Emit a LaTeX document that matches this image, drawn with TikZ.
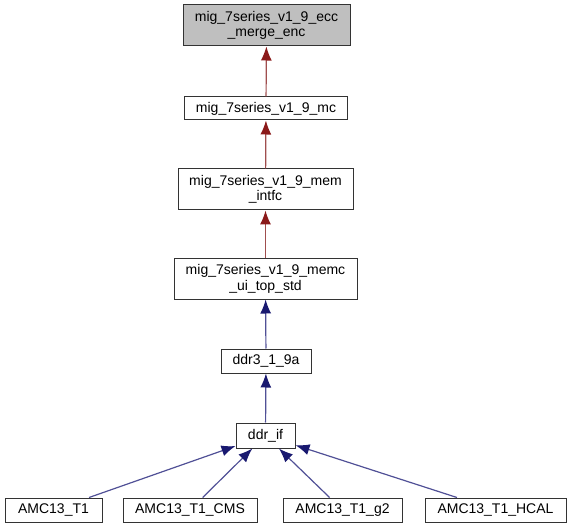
\documentclass[tikz,border=0pt]{standalone}
\usepackage{fontspec}
\setmainfont{Liberation Sans}
\usetikzlibrary{arrows.meta}
\definecolor{firebrick}{RGB}{139,26,26}
\definecolor{midnight}{RGB}{25,25,112}
\definecolor{redline}{RGB}{160,78,78}
\definecolor{blueline}{RGB}{80,80,150}
\begin{document}
\begin{tikzpicture}[x=1pt,y=-1pt]
	\tikzstyle{module}=[draw=black!80, line width=1pt, inner sep=0pt, align=center, font=\fontsize{14}{15.5}\selectfont, minimum height=24pt]
	\tikzstyle{redarrow}=[draw=redline, line width=1.2pt, {Latex[length=14pt,width=11pt,color=firebrick]}-]
	\tikzstyle{bluearrow}=[draw=blueline, line width=1.2pt, {Latex[length=14pt,width=11pt,color=midnight]}-]
	\useasboundingbox (0,0) rectangle (570,529);
	% Chain
	\node at (266.5,25.5) [module, fill=black!25, minimum width=167pt, minimum height=41pt] (ecc) {mig\_7series\_v1\_9\_ecc\\\_merge\_enc};
	\node at (266,108.5) [module, minimum width=163pt, minimum height=23pt] (mc) {mig\_7series\_v1\_9\_mc};
	\node at (265.5,189.5) [module, minimum width=175pt, minimum height=41pt] (intfc) {mig\_7series\_v1\_9\_mem\\\_intfc};
	\node at (265.5,279) [module, minimum width=183pt, minimum height=40pt] (memc) {mig\_7series\_v1\_9\_memc\\\_ui\_top\_std};
	\node at (266,361) [module, minimum width=90pt] (ddr3) {ddr3\_1\_9a};
	\node at (265.5,435.5) [module, minimum width=59pt, minimum height=25pt] (ddrif) {ddr\_if};
	% Users
	\foreach \n/\x/\w/\lbl in {1/53.5/97/{AMC13\_T1}, 2/190/134/{AMC13\_T1\_CMS}, 3/342.5/119/{AMC13\_T1\_g2}, 4/495.5/141/{AMC13\_T1\_HCAL}}
		\node at (\x,510) [module, minimum width=\w pt] (amc_\n) {\lbl};
	%---------------------%
	\draw[redarrow] (ecc) to (mc);
	\draw[redarrow] (mc) to (intfc);
	\draw[redarrow] (intfc) to (memc);
	\draw[bluearrow] (memc) to (ddr3);
	\draw[bluearrow] (ddr3) to (ddrif);
	\foreach \i in {1,...,4}
		\draw[bluearrow] (ddrif) to (amc_\i);
	%---------------------%
\end{tikzpicture}
\end{document}
